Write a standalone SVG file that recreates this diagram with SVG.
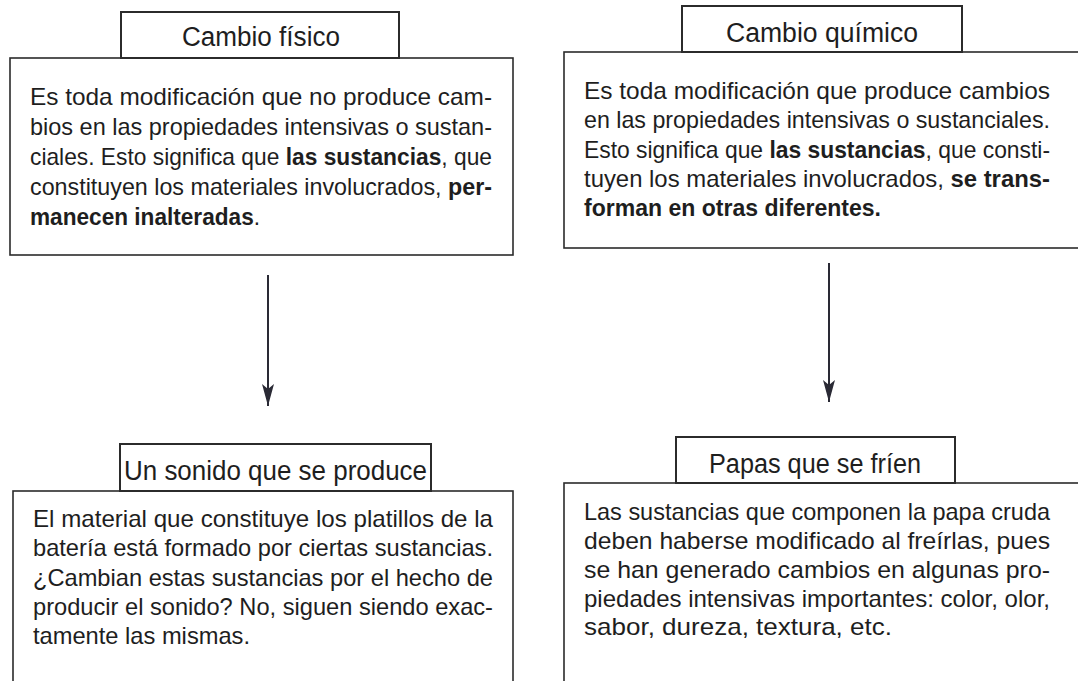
<svg xmlns="http://www.w3.org/2000/svg" width="1078" height="681" viewBox="0 0 1078 681">
<style>
.box{fill:#fff;stroke:#2b2b2b;stroke-width:1.6}
.tbox{fill:#fff;stroke:#2b2b2b;stroke-width:2}
.title{font-family:"Liberation Sans",Arial,sans-serif;font-size:27px;fill:#1e1e1e}
.body{font-family:"Liberation Sans",Arial,sans-serif;font-size:24px;fill:#1e1e1e}
.b{font-weight:bold}
.arrow{stroke:#2a2a35;stroke-width:2;fill:none}
</style>
<defs>
<marker id="ah" markerUnits="userSpaceOnUse" markerWidth="26" markerHeight="16" viewBox="-1 -8 26 16" refX="22" refY="0" orient="auto">
<path d="M0,-6 L22,0 L0,6 L5,0 Z" fill="#2a2a35"/>
</marker>
</defs>
<rect width="1078" height="681" fill="#fff"/>

<g id="cambio-fisico">
<rect class="box" x="10" y="58" width="503" height="197"/>
<rect class="tbox" x="121" y="12" width="278" height="46"/>
<text class="title" x="182" y="46" textLength="158" lengthAdjust="spacingAndGlyphs">Cambio físico</text>
<text class="body" x="30" y="105" textLength="462" lengthAdjust="spacingAndGlyphs">Es toda modificación que no produce cam-</text>
<text class="body" x="30" y="135" textLength="462" lengthAdjust="spacingAndGlyphs">bios en las propiedades intensivas o sustan-</text>
<text class="body" x="30" y="165" textLength="462" lengthAdjust="spacingAndGlyphs">ciales. Esto significa que <tspan class="b">las sustancias</tspan>, que</text>
<text class="body" x="30" y="195" textLength="462" lengthAdjust="spacingAndGlyphs">constituyen los materiales involucrados, <tspan class="b">per-</tspan></text>
<text class="body" x="30" y="225" textLength="230" lengthAdjust="spacingAndGlyphs"><tspan class="b">manecen inalteradas</tspan>.</text>
</g>

<g id="cambio-quimico">
<rect class="box" x="564" y="52" width="530" height="196"/>
<rect class="tbox" x="682" y="6" width="280" height="46"/>
<text class="title" x="726" y="42" textLength="192" lengthAdjust="spacingAndGlyphs">Cambio químico</text>
<text class="body" x="584" y="99" textLength="466" lengthAdjust="spacingAndGlyphs">Es toda modificación que produce cambios</text>
<text class="body" x="584" y="128" textLength="466" lengthAdjust="spacingAndGlyphs">en las propiedades intensivas o sustanciales.</text>
<text class="body" x="584" y="158" textLength="466" lengthAdjust="spacingAndGlyphs">Esto significa que <tspan class="b">las sustancias</tspan>, que consti-</text>
<text class="body" x="584" y="187" textLength="466" lengthAdjust="spacingAndGlyphs">tuyen los materiales involucrados, <tspan class="b">se trans-</tspan></text>
<text class="body b" x="584" y="216" textLength="297" lengthAdjust="spacingAndGlyphs">forman en otras diferentes.</text>
</g>

<g id="sonido">
<rect class="box" x="13" y="491" width="500" height="220"/>
<rect class="tbox" x="120" y="444" width="311" height="47"/>
<text class="title" x="124" y="480" textLength="303" lengthAdjust="spacingAndGlyphs">Un sonido que se produce</text>
<text class="body" x="33" y="527" textLength="460" lengthAdjust="spacingAndGlyphs">El material que constituye los platillos de la</text>
<text class="body" x="33" y="556" textLength="460" lengthAdjust="spacingAndGlyphs">batería está formado por ciertas sustancias.</text>
<text class="body" x="33" y="586" textLength="460" lengthAdjust="spacingAndGlyphs">¿Cambian estas sustancias por el hecho de</text>
<text class="body" x="33" y="615" textLength="460" lengthAdjust="spacingAndGlyphs">producir el sonido? No, siguen siendo exac-</text>
<text class="body" x="33" y="644" textLength="217" lengthAdjust="spacingAndGlyphs">tamente las mismas.</text>
</g>

<g id="papas">
<rect class="box" x="564" y="483" width="530" height="220"/>
<rect class="tbox" x="676" y="437" width="279" height="46"/>
<text class="title" x="709" y="473" textLength="212" lengthAdjust="spacingAndGlyphs">Papas que se fríen</text>
<text class="body" x="584" y="520" textLength="466" lengthAdjust="spacingAndGlyphs">Las sustancias que componen la papa cruda</text>
<text class="body" x="584" y="549" textLength="466" lengthAdjust="spacingAndGlyphs">deben haberse modificado al freírlas, pues</text>
<text class="body" x="584" y="578" textLength="466" lengthAdjust="spacingAndGlyphs">se han generado cambios en algunas pro-</text>
<text class="body" x="584" y="607" textLength="466" lengthAdjust="spacingAndGlyphs">piedades intensivas importantes: color, olor,</text>
<text class="body" x="584" y="635" textLength="308" lengthAdjust="spacingAndGlyphs">sabor, dureza, textura, etc.</text>
</g>

<g id="connectors">
<line class="arrow" x1="268" y1="275" x2="268" y2="406" marker-end="url(#ah)"/>
<line class="arrow" x1="829" y1="263" x2="829" y2="402" marker-end="url(#ah)"/>
</g>
</svg>
